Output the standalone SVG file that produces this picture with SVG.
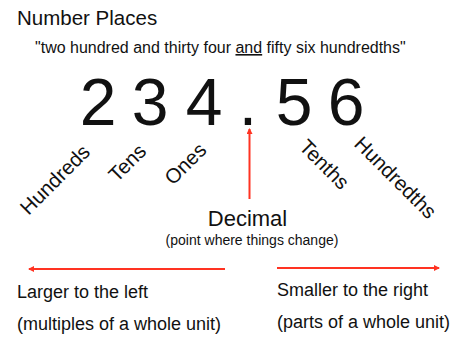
<svg xmlns="http://www.w3.org/2000/svg" width="451" height="339" viewBox="0 0 451 339">
<style>
text{font-family:"Liberation Sans",Arial,sans-serif;fill:#111}
.lbl{font-size:20.5px}
.dig{font-size:66px;text-anchor:middle}
.ar{stroke:#ff3322;stroke-width:2;fill:none}
</style>
<defs>
<marker id="ah" viewBox="0 0 6 6" refX="5" refY="3" markerWidth="3" markerHeight="3" orient="auto"><path d="M0,0L6,3L0,6z" fill="#ff3322"/></marker>
</defs>
<rect width="451" height="339" fill="#fff"/>
<g id="title"><text x="17" y="25" font-size="20.5">Number Places</text></g>
<g id="subtitle"><text x="35" y="53" font-size="16">"two hundred and thirty four <tspan text-decoration="underline">and</tspan> fifty six hundredths"</text></g>
<g id="number">
<text class="dig" x="98" y="125">2</text>
<text class="dig" x="150" y="125">3</text>
<text class="dig" x="204" y="125">4</text>
<text class="dig" x="248" y="125">.</text>
<text class="dig" x="294" y="125">5</text>
<text class="dig" x="346" y="125">6</text>
</g>
<g id="hundreds"><text class="lbl" transform="translate(28.5,216) rotate(-45)">Hundreds</text></g>
<g id="tens"><text class="lbl" transform="translate(117,183) rotate(-45)">Tens</text></g>
<g id="ones"><text class="lbl" transform="translate(173,186) rotate(-45)">Ones</text></g>
<g id="tenths"><text class="lbl" transform="translate(298,148) rotate(45)">Tenths</text></g>
<g id="hundredths"><text class="lbl" transform="translate(353,145) rotate(45)">Hundredths</text></g>
<g id="decimal">
<text x="247.5" y="226" font-size="22" text-anchor="middle">Decimal</text>
<text x="252" y="244.5" font-size="14" text-anchor="middle">(point where things change)</text>
</g>
<g id="larger">
<text x="17" y="298" font-size="18">Larger to the left</text>
<text x="17" y="330" font-size="18">(multiples of a whole unit)</text>
</g>
<g id="smaller">
<text x="277" y="296" font-size="18">Smaller to the right</text>
<text x="277" y="328" font-size="18">(parts of a whole unit)</text>
</g>
<g id="connectors">
<line class="ar" x1="249.5" y1="199" x2="249.5" y2="129" marker-end="url(#ah)"/>
<line class="ar" x1="225" y1="269" x2="29" y2="269" marker-end="url(#ah)"/>
<line class="ar" x1="277" y1="268" x2="439" y2="268" marker-end="url(#ah)"/>
</g>
</svg>
